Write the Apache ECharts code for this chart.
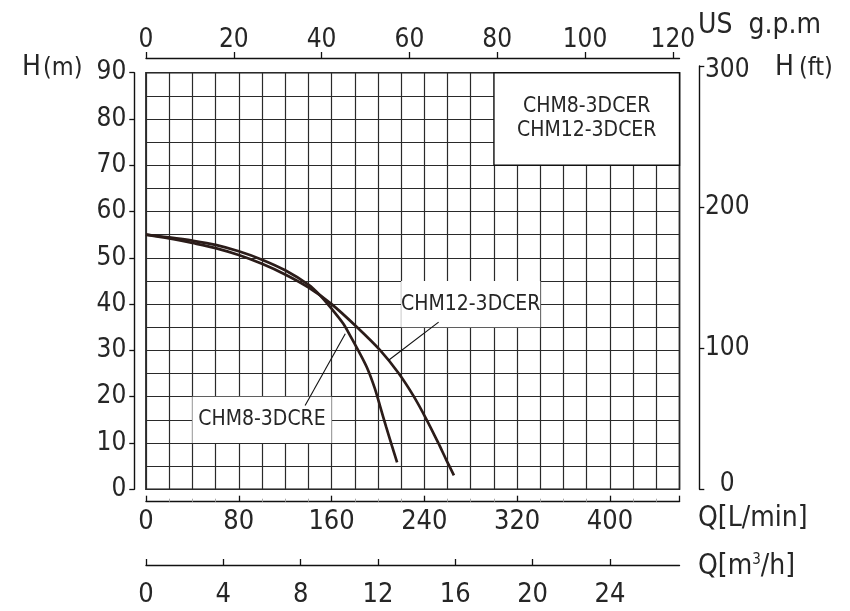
<!DOCTYPE html>
<html>
<head>
<meta charset="utf-8">
<script src="https://cdn.jsdelivr.net/npm/echarts@6/dist/echarts.min.js"></script>
<style>html,body{margin:0;padding:0;background:#fff}#c{width:850px;height:611px}</style>
</head>
<body>
<div id="c"></div>
<script>
// ---- data (Q in L/min, H in m) ----
const chm8Q = [0, 20, 40, 60, 80, 100, 120, 140, 150, 160, 170, 176, 183, 190.5, 197, 202, 207, 212, 216.5];
const chm8H = [55, 54.4, 53.7, 52.8, 51.4, 49.6, 47.3, 44.2, 41.9, 39.0, 35.8, 33.2, 30.0, 26.3, 22.0, 17.8, 13.5, 9.4, 5.8];
const chm12Q = [0, 20, 40, 60, 80, 100, 120, 140, 160, 182, 202, 218, 231, 242, 252, 259, 265.5];
const chm12H = [55, 54.2, 53.2, 52.1, 50.6, 48.7, 46.4, 43.6, 40.0, 35, 30, 25, 20, 15, 10, 6.3, 3];
const legendLines = ['CHM8-3DCER', 'CHM12-3DCER'];
const label8 = 'CHM8-3DCRE';
const label12 = 'CHM12-3DCER';
const legendBoxQ = [300, 460], legendBoxH = [70, 90];
const box8Q = [40, 160], box8H = [10, 20];
const box12Q = [220, 340], box12H = [35, 45];
const leader8 = [[137.2, 18.1], [171.8, 33.6]];
const leader12 = [[208.9, 27.8], [252.3, 36.1]];
const qMax = 460;            // L/min
const hMax = 90;             // m
const ftMax = 300;           // ft
const gpmPerLmin = 1 / 3.78541;
const m3hPerLmin = 0.06;
const mPerFt = 0.3048;

// ---- layout ----
const L = 146, W = 533.5, T = 72.7, B = 489.2, H = B - T;
const pxPerM = H / hMax;
const ftTop = B - ftMax * mPerFt * pxPerM;
const FONT = "'DejaVu Sans Condensed', 'DejaVu Sans', sans-serif";
const TC = '#262626';
const GC = '#2a2a2a';
const CC = '#2b1c19';

const chart = echarts.init(document.getElementById('c'), null, {renderer: 'canvas'});
const hiddenY = (g) => ({type: 'value', gridIndex: g, show: false, min: 0, max: 1});
const hiddenX = (g) => ({type: 'value', gridIndex: g, show: false, min: 0, max: 1});
const axLine = {show: true, onZero: false, lineStyle: {color: '#111', width: 1.4}};

const option = {
  animation: false,
  backgroundColor: '#fff',
  textStyle: {fontFamily: FONT},
  grid: [
    {left: L, top: T, width: W, height: H, show: true, borderColor: '#111', borderWidth: 1.6, backgroundColor: 'transparent'},
    {left: L, top: B, width: W, height: 501.7 - B},                 // L/min axis
    {left: L, top: 540, width: W, height: 25},                       // m3/h axis
    {left: L, top: 58, width: W, height: 1},                         // gpm axis
    {left: L, top: ftTop, width: W, height: B - ftTop}               // ft axis
  ],
  xAxis: [
    {type: 'value', gridIndex: 0, min: 0, max: qMax, interval: 20,
     axisLine: {show: false, onZero: false}, axisTick: {show: false}, axisLabel: {show: false},
     splitLine: {show: true, lineStyle: {color: GC, width: 1.2}}},
    {type: 'value', gridIndex: 1, min: 0, max: qMax, interval: 80, position: 'bottom',
     axisLine: axLine,
     axisTick: {show: true, inside: true, length: 6, lineStyle: {color: '#111', width: 1.3}},
     minorTick: {show: true, splitNumber: 4, length: 3, lineStyle: {color: '#aaa', width: 1}},
     axisLabel: {show: true, margin: 7, color: TC, fontSize: 27, fontFamily: FONT, showMaxLabel: false},
     splitLine: {show: false}},
    {type: 'value', gridIndex: 2, min: 0, max: qMax * m3hPerLmin, interval: 4, position: 'bottom',
     axisLine: axLine,
     axisTick: {show: true, inside: true, length: 6, lineStyle: {color: '#111', width: 1.3}},
     axisLabel: {show: true, margin: 16, color: TC, fontSize: 27, fontFamily: FONT, showMaxLabel: false},
     splitLine: {show: false}},
    {type: 'value', gridIndex: 3, min: 0, max: qMax * gpmPerLmin, interval: 20, position: 'top',
     axisLine: axLine,
     axisTick: {show: true, inside: false, length: 6, lineStyle: {color: '#111', width: 1.3}},
     axisLabel: {show: true, margin: 5, color: TC, fontSize: 26, fontFamily: FONT},
     splitLine: {show: false}},
    hiddenX(4)
  ],
  yAxis: [
    {type: 'value', gridIndex: 0, min: 0, max: hMax, interval: 5,
     axisLine: {show: false, onZero: false}, axisTick: {show: false}, axisLabel: {show: false},
     splitLine: {show: true, lineStyle: {color: GC, width: 1.2}}},
    {type: 'value', gridIndex: 0, min: 0, max: hMax, interval: 10, position: 'left', offset: L - 134.3,
     axisLine: axLine,
     axisTick: {show: true, inside: false, length: 5, lineStyle: {color: '#111', width: 1.3}},
     axisLabel: {show: true, margin: 8, color: TC, fontSize: 26, fontFamily: FONT},
     splitLine: {show: false}},
    hiddenY(1), hiddenY(2), hiddenY(3),
    {type: 'value', gridIndex: 4, min: 0, max: ftMax, interval: 100, position: 'right', offset: 699.3 - (L + W),
     axisLine: axLine,
     axisTick: {show: true, inside: false, length: 5, lineStyle: {color: '#111', width: 1.3}},
     axisLabel: {show: true, margin: 28, align: 'center', color: TC, fontSize: 26, fontFamily: FONT,
       formatter: (v) => v === 0 ? '{lo|0}' : (v === ftMax ? '{hi|' + v + '}' : String(v)),
       rich: {lo: {fontSize: 26, fontFamily: FONT, color: TC, padding: [0, 0, 10, 0]},
              hi: {fontSize: 26, fontFamily: FONT, color: TC, padding: [8, 0, 0, 0]}}},
     splitLine: {show: false}}
  ],
  series: [
    {
      name: 'boxes', type: 'line', xAxisIndex: 0, yAxisIndex: 0, data: [], z: 2, silent: true,
      markArea: {
        silent: true,
        data: [
          [{coord: [legendBoxQ[0], legendBoxH[1]], itemStyle: {color: '#fff', borderColor: '#111', borderWidth: 1.4},
            label: {show: true, position: 'inside', formatter: legendLines.join('\n'), color: TC, fontSize: 21, lineHeight: 24, fontFamily: FONT}},
           {coord: [legendBoxQ[1], legendBoxH[0]]}],
          [{coord: [box8Q[0], box8H[1]], itemStyle: {color: '#fff', borderWidth: 0},
            label: {show: true, position: 'inside', formatter: label8, color: TC, fontSize: 21, fontFamily: FONT}},
           {coord: [box8Q[1], box8H[0]]}],
          [{coord: [box12Q[0], box12H[1]], itemStyle: {color: '#fff', borderWidth: 0},
            label: {show: true, position: 'inside', formatter: label12, color: TC, fontSize: 21, fontFamily: FONT}},
           {coord: [box12Q[1], box12H[0]]}]
        ]
      }
    },
    {
      name: 'leaders', type: 'line', xAxisIndex: 0, yAxisIndex: 0, data: [], z: 3, silent: true,
      markLine: {
        silent: true, symbol: ['none', 'none'], label: {show: false},
        lineStyle: {color: '#111', width: 1.1, type: 'solid'},
        data: [
          [{coord: leader8[0]}, {coord: leader8[1]}],
          [{coord: leader12[0]}, {coord: leader12[1]}]
        ]
      }
    },
    {
      name: 'CHM8-3DCRE', type: 'line', xAxisIndex: 0, yAxisIndex: 0, z: 4,
      data: chm8Q.map((q, i) => [q, chm8H[i]]),
      smooth: 0.3, showSymbol: false, symbol: 'none',
      lineStyle: {color: CC, width: 2.7}
    },
    {
      name: 'CHM12-3DCER', type: 'line', xAxisIndex: 0, yAxisIndex: 0, z: 4,
      data: chm12Q.map((q, i) => [q, chm12H[i]]),
      smooth: 0.3, showSymbol: false, symbol: 'none',
      lineStyle: {color: CC, width: 2.7}
    }
  ],
  graphic: [
    {type: 'text', left: 22, top: 54, style: {text: 'H', fontSize: 28, fill: TC, fontFamily: FONT}},
    {type: 'text', left: 43, top: 56, style: {text: '(m)', fontSize: 25, fill: TC, fontFamily: FONT}},
    {type: 'text', left: 698, top: 12, style: {text: 'US  g.p.m', fontSize: 28, fill: TC, fontFamily: FONT}},
    {type: 'text', left: 775, top: 54, style: {text: 'H', fontSize: 28, fill: TC, fontFamily: FONT}},
    {type: 'text', left: 799, top: 56, style: {text: '(ft)', fontSize: 25, fill: TC, fontFamily: FONT}},
    {type: 'text', left: 698, top: 505, style: {text: 'Q[L/min]', fontSize: 28, fill: TC, fontFamily: FONT}},
    {type: 'text', left: 698, top: 553, style: {
      text: '{a|Q[m}{s|3}{a|/h]}', fontFamily: FONT,
      rich: {a: {fontSize: 28, fill: TC, fontFamily: FONT}, s: {fontSize: 15, fill: TC, fontFamily: FONT, verticalAlign: 'top', padding: [0, 0, 12, 0]}}
    }}
  ]
};
chart.setOption(option);
</script>
</body>
</html>
